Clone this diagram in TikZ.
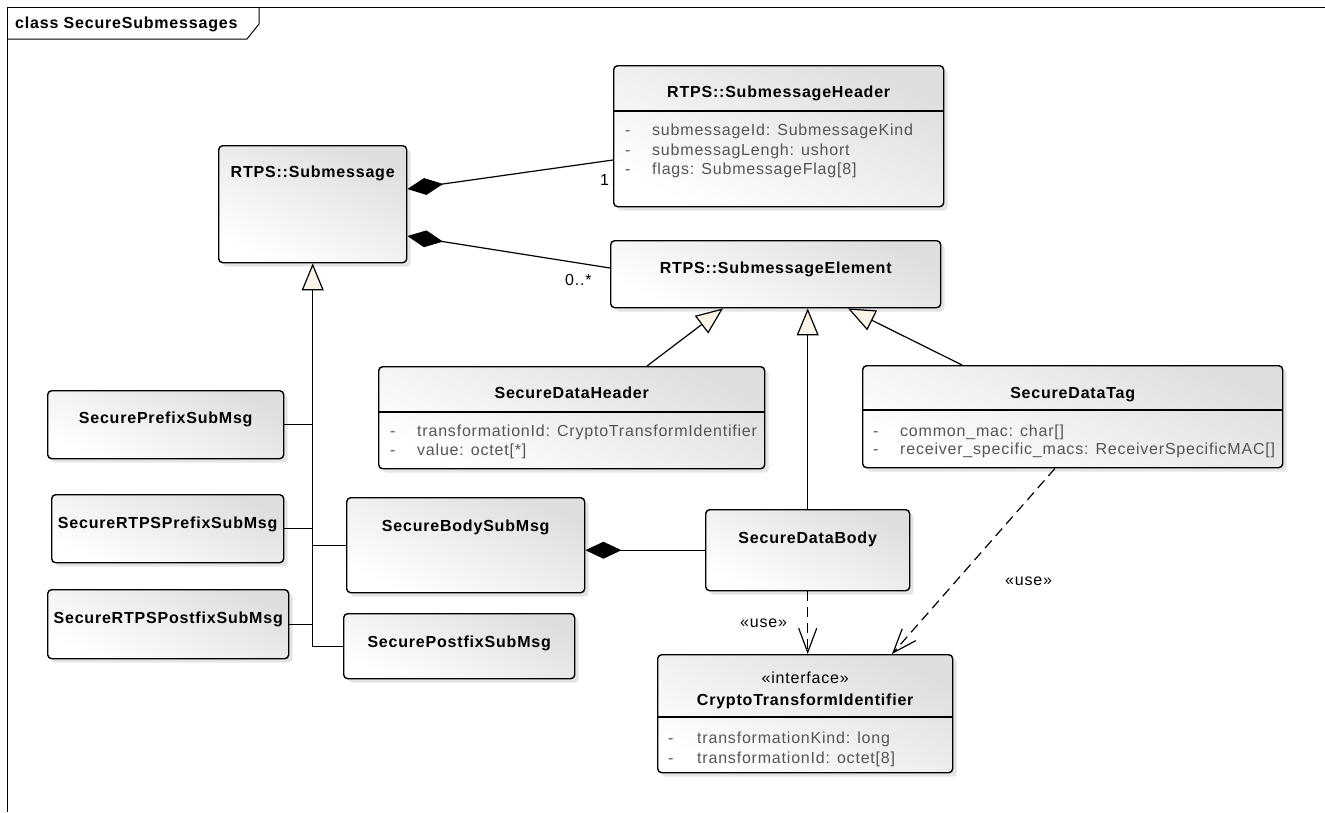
\documentclass[tikz,border=0pt]{standalone}
\usepackage{fontspec}
\setmainfont[LetterSpace=5]{Liberation Sans}
\usetikzlibrary{arrows.meta,shadows,calc}

\definecolor{attrgray}{RGB}{85,85,85}
\definecolor{gencream}{RGB}{252,244,230}

\tikzset{
  cls/.style={draw=black, line width=1.4pt, rounded corners=4pt,
    top color=black!13, bottom color=white, shading angle=-25,
    drop shadow={shadow xshift=4pt, shadow yshift=-4pt, fill=black!20, draw=none},
    inner sep=0pt, anchor=north west},
  sepline/.style={line width=1.2pt},
  ctitle/.style={font=\fontsize{16}{19}\selectfont\bfseries, inner sep=0pt, anchor=base},
  stereo/.style={font=\fontsize{16}{19}\selectfont, inner sep=0pt, anchor=base},
  attr/.style={font=\fontsize{16}{19}\selectfont, text=attrgray, inner sep=0pt, anchor=base west},
  lbl/.style={font=\fontsize{16}{19}\selectfont, inner sep=0pt, anchor=base west},
  comp/.style={line width=1.2pt, -{Diamond[length=36pt,width=17pt,fill=black]}},
  gen/.style={line width=1.2pt, -{Triangle[length=27pt,width=22pt,fill=gencream]}},
  genline/.style={line width=1.2pt},
  dep/.style={line width=1.2pt, dash pattern=on 10pt off 6pt,
    -{Straight Barb[length=24pt,width=18pt]}},
  frameline/.style={line width=1pt},
}

% \umlclass{name}{left}{top}{width}{height}
\newcommand\umlclass[5]{\node[cls, minimum width=#4pt, minimum height=#5pt] (#1) at (#2,#3) {};}
% \umlsep{name}{y}: compartment divider
\newcommand\umlsep[2]{\draw[sepline] (#1.west |- 0,#2) -- (#1.east |- 0,#2);}

\begin{document}
\begin{tikzpicture}[x=1pt, y=-1pt]
\useasboundingbox (0,0) rectangle (1325,812);

% diagram frame and name tab
\draw[frameline] (1325,7) -- (7,7) -- (7,812);
\draw[frameline] (7,39) -- (247,39) -- (259,24) -- (259,7);
\node[lbl, font=\fontsize{16}{19}\selectfont\bfseries] (ftitle) at (15,28) {class SecureSubmessages};

% classes
\umlclass{hdr}{613}{65}{330}{141}
\umlclass{sub}{218}{145}{188}{117}
\umlclass{elem}{610}{240}{330}{67}
\umlclass{sdh}{378}{366}{386}{102}
\umlclass{tag}{862}{365}{420}{102}
\umlclass{sdb}{705}{509}{204}{81}
\umlclass{crypto}{657}{654}{295}{118}
\umlclass{body}{346}{497}{238}{95}
\umlclass{post}{343}{613}{231}{65}
\umlclass{prefix}{47}{390}{236}{68}
\umlclass{rtpspre}{51}{494}{232}{68}
\umlclass{rtpspost}{47}{589}{241}{69}

\umlsep{hdr}{111}
\umlsep{sdh}{412}
\umlsep{tag}{410}
\umlsep{crypto}{717}

% class names
\node[ctitle] (hdr-t) at (hdr.north |- 0,97) {RTPS::SubmessageHeader};
\node[ctitle] (sub-t) at (sub.north |- 0,177) {RTPS::Submessage};
\node[ctitle] (elem-t) at (elem.north |- 0,273) {RTPS::SubmessageElement};
\node[ctitle] (sdh-t) at (sdh.north |- 0,398) {SecureDataHeader};
\node[ctitle] (tag-t) at (tag.north |- 0,398) {SecureDataTag};
\node[ctitle] (sdb-t) at (sdb.north |- 0,543) {SecureDataBody};
\node[stereo] (crypto-s) at (crypto.north |- 0,683) {«interface»};
\node[ctitle] (crypto-t) at (crypto.north |- 0,705) {CryptoTransformIdentifier};
\node[ctitle] (body-t) at (body.north |- 0,531) {SecureBodySubMsg};
\node[ctitle] (post-t) at (post.north |- 0,647) {SecurePostfixSubMsg};
\node[ctitle] (prefix-t) at (prefix.north |- 0,423) {SecurePrefixSubMsg};
\node[ctitle] (rtpspre-t) at (rtpspre.north |- 0,528) {SecureRTPSPrefixSubMsg};
\node[ctitle] (rtpspost-t) at (rtpspost.north |- 0,623) {SecureRTPSPostfixSubMsg};

% attributes
\node[attr] (hdr-d1) at (625,135) {-};
\node[attr] (hdr-a1) at (652,135) {submessageId: SubmessageKind};
\node[attr] (hdr-d2) at (625,155) {-};
\node[attr] (hdr-a2) at (652,155) {submessagLengh: ushort};
\node[attr] (hdr-d3) at (625,174) {-};
\node[attr] (hdr-a3) at (652,174) {flags: SubmessageFlag[8]};

\node[attr] (sdh-d1) at (390,436) {-};
\node[attr] (sdh-a1) at (417,436) {transformationId: CryptoTransformIdentifier};
\node[attr] (sdh-d2) at (390,455) {-};
\node[attr] (sdh-a2) at (417,455) {value: octet[*]};

\node[attr] (tag-d1) at (873,436) {-};
\node[attr] (tag-a1) at (900,436) {common\_mac: char[]};
\node[attr] (tag-d2) at (873,454) {-};
\node[attr] (tag-a2) at (900,454) {receiver\_specific\_macs: ReceiverSpecificMAC[]};

\node[attr] (crypto-d1) at (668,743) {-};
\node[attr] (crypto-a1) at (697,743) {transformationKind: long};
\node[attr] (crypto-d2) at (668,763) {-};
\node[attr] (crypto-a2) at (697,763) {transformationId: octet[8]};

% compositions
\draw[comp] ($(hdr.north west)+(0,95)$) -- ($(sub.north east)+(0,44)$);
\draw[comp] ($(elem.north west)+(0,28)$) -- ($(sub.north east)+(0,91)$);
\draw[comp] (sdb.west) -- (sdb.west -| body.east);
\node[lbl] (m1) at (600,185) {1};
\node[lbl] (m2) at (565,285) {0..*};

% generalizations towards RTPS::Submessage
\draw[gen] (post.west) -| (sub.south);
\draw[genline] (prefix.east) -- (prefix.east -| sub.south);
\draw[genline] (rtpspre.east) -- (rtpspre.east -| sub.south);
\draw[genline] (rtpspost.east) -- (rtpspost.east -| sub.south);
\draw[genline] (body.west) -- (body.west -| sub.south);

% generalizations towards RTPS::SubmessageElement
\draw[gen] ($(sdh.north west)+(269,0)$) -- ($(elem.south west)+(113,0)$);
\draw[gen] (sdb.north) -- (sdb.north |- elem.south);
\draw[gen] ($(tag.north west)+(100,0)$) -- ($(elem.south west)+(238,0)$);

% usage dependencies
\draw[dep] (sdb.south) -- (sdb.south |- crypto.north);
\draw[dep] ($(tag.south west)+(193,0)$) -- ($(crypto.north west)+(235,0)$);
\node[lbl] (u1) at (740,627) {«use»};
\node[lbl] (u2) at (1005,585) {«use»};

\end{tikzpicture}
\end{document}
